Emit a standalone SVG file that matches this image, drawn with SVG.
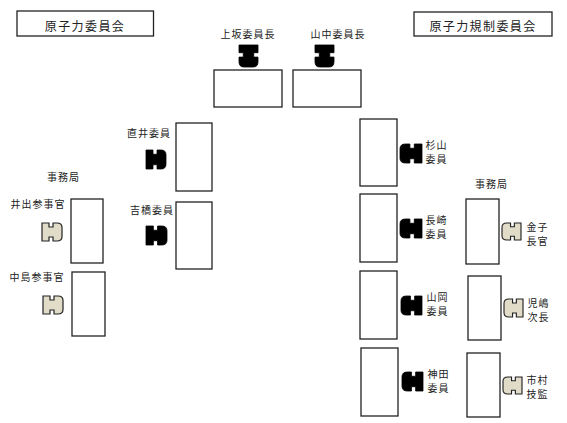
<svg xmlns="http://www.w3.org/2000/svg" xmlns:xlink="http://www.w3.org/1999/xlink" width="567" height="423" viewBox="0 0 567 423">
<style>
text{font-family:"Noto Sans CJK JP","Liberation Sans",sans-serif;font-size:10px;fill:#222;text-anchor:middle}
.t{font-size:12px;letter-spacing:1.4px}
.w{letter-spacing:1px}
.d{fill:#fff;stroke:#222;stroke-width:1.3}
.k{fill:#000;stroke:#000;stroke-width:.8}
.b{fill:#e0dcc8;stroke:#222;stroke-width:1.2}
</style>
<defs><path id="c" d="M0,0H7V4.500H11V0H15Q20,0 20,5V15Q20,20 15,20H11V15.500H7V20H0Z"/></defs>
<rect width="567" height="423" fill="#fff"/>
<g id="connectors"/>
<g id="title-left"><rect class="d" x="17" y="11" width="136.500" height="25"/><text class="t" x="85" y="31">原子力委員会</text></g>
<g id="title-right"><rect class="d" x="414" y="12" width="138" height="24"/><text class="t" x="483" y="31">原子力規制委員会</text></g>
<g id="uesaka"><text class="w" x="248" y="38">上坂委員長</text><use href="#c" class="k" transform="translate(258,45) rotate(90) scale(1.1,.95)"/><rect class="d" x="214" y="70" width="68" height="37"/></g>
<g id="yamanaka"><text class="w" x="338" y="38">山中委員長</text><use href="#c" class="k" transform="translate(334,45) rotate(90) scale(1.1,.95)"/><rect class="d" x="293" y="70" width="68" height="37"/></g>
<g id="naoi"><text class="w" x="149" y="137">直井委員</text><use href="#c" class="k" transform="translate(146,150) scale(1,.95)"/><rect class="d" x="176" y="123" width="36" height="68"/></g>
<g id="yoshihashi"><text class="w" x="152" y="214">吉橋委員</text><use href="#c" class="k" transform="translate(146,226) scale(1.05,.95)"/><rect class="d" x="176" y="202" width="36" height="67"/></g>
<g id="jimukyoku-left"><text class="w" x="63.500" y="181">事務局</text></g>
<g id="ide"><text class="w" x="38" y="208">井出参事官</text><use href="#c" class="b" transform="translate(42,223) scale(1,.9)"/><rect class="d" x="71" y="199" width="32" height="64"/></g>
<g id="nakajima"><text class="w" x="37" y="281">中島参事官</text><use href="#c" class="b" transform="translate(43,296) scale(1,.9)"/><rect class="d" x="72" y="272" width="33" height="64"/></g>
<g id="sugiyama"><rect class="d" x="360" y="119" width="37" height="67"/><use href="#c" class="k" transform="translate(422,144) scale(-1.1,.95)"/><text x="436.500" y="148.500" class="w">杉山</text><text x="436.500" y="162.500" class="w">委員</text></g>
<g id="nagasaki"><rect class="d" x="360" y="194" width="37" height="68"/><use href="#c" class="k" transform="translate(422,219) scale(-1.1,.95)"/><text x="436.500" y="224" class="w">長崎</text><text x="436.500" y="238" class="w">委員</text></g>
<g id="yamaoka"><rect class="d" x="360" y="271" width="37" height="68"/><use href="#c" class="k" transform="translate(422,296) scale(-1.05,.95)"/><text x="437.500" y="301" class="w">山岡</text><text x="437.500" y="315" class="w">委員</text></g>
<g id="kanda"><rect class="d" x="361" y="348" width="37" height="68"/><use href="#c" class="k" transform="translate(423,372) scale(-1.05,.95)"/><text x="438.500" y="377.500" class="w">神田</text><text x="438.500" y="391.500" class="w">委員</text></g>
<g id="jimukyoku-right"><text class="w" x="491.500" y="188">事務局</text></g>
<g id="kaneko"><rect class="d" x="466" y="199" width="33" height="65"/><use href="#c" class="b" transform="translate(521,223) scale(-.95,.85)"/><text x="537.500" y="231" class="w">金子</text><text x="537.500" y="245" class="w">長官</text></g>
<g id="kojima"><rect class="d" x="468" y="276" width="33" height="64"/><use href="#c" class="b" transform="translate(523,299) scale(-.95,.9)"/><text x="538.500" y="307" class="w">児嶋</text><text x="538.500" y="321" class="w">次長</text></g>
<g id="ichimura"><rect class="d" x="467" y="353" width="33" height="64"/><use href="#c" class="b" transform="translate(522,377) scale(-.95,.85)"/><text x="537.500" y="384" class="w">市村</text><text x="537.500" y="398" class="w">技監</text></g>
</svg>
